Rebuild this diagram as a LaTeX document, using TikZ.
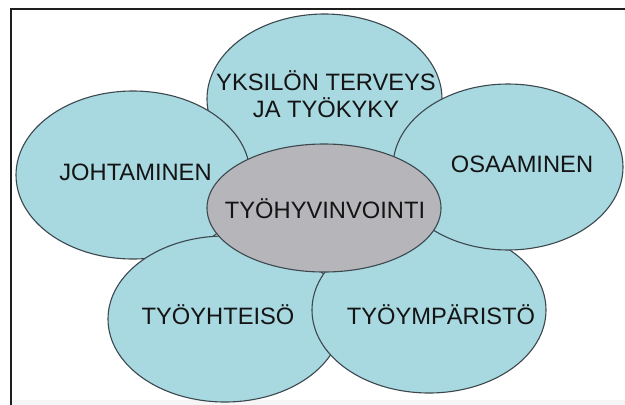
\documentclass[tikz,border=0pt]{standalone}
\usepackage{fontspec}
\setmainfont{Liberation Sans}
\usetikzlibrary{shapes.geometric}
\definecolor{petal}{RGB}{168,216,224}
\definecolor{core}{RGB}{182,182,186}
\definecolor{rim}{RGB}{60,72,78}
\definecolor{frame}{RGB}{30,30,30}
\tikzset{
  petal/.style={ellipse, draw=rim, line width=1.1pt, fill=petal, inner sep=0pt},
  hub/.style={ellipse, draw=rim, line width=1.1pt, fill=core, inner sep=0pt},
  lbl/.style={font=\fontsize{23.7}{27}\selectfont, text=black!92, inner sep=0pt, anchor=base, align=center}
}
\begin{document}
\begin{tikzpicture}[x=1pt,y=-1pt]
\useasboundingbox (0,0) rectangle (625,405);
\fill[white] (0,0) rectangle (625,405);
\fill[black!4] (11,400) rectangle (625,405);
\draw[frame, line width=2pt] (625,8.5) -- (11,8.5) -- (11,405);
% petals (drawing order matters)
\node[petal, minimum width=235pt, minimum height=170pt] (top) at (324.5,99) {};
\node[petal, minimum width=234pt, minimum height=168pt] (left) at (133,175) {};
\node[petal, minimum width=234pt, minimum height=166pt] (bl) at (225,319) {};
\node[petal, minimum width=234pt, minimum height=166pt] (br) at (429,310) {};
\node[petal, minimum width=230pt, minimum height=166pt] (right) at (508,167) {};
\node[hub, minimum width=234pt, minimum height=128pt] (hub) at (324,208) {};
% labels
\node[lbl] (ttop) at (326,117) {YKSILÖN TERVEYS\\JA TYÖKYKY};
\node[lbl] (tleft) at (135.5,180) {JOHTAMINEN};
\node[lbl] (tright) at (522,172) {OSAAMINEN};
\node[lbl] (thub) at (325,218) {TYÖHYVINVOINTI};
\node[lbl] (tbl) at (218,324) {TYÖYHTEISÖ};
\node[lbl] (tbr) at (441,324) {TYÖYMPÄRISTÖ};
\end{tikzpicture}
\end{document}
